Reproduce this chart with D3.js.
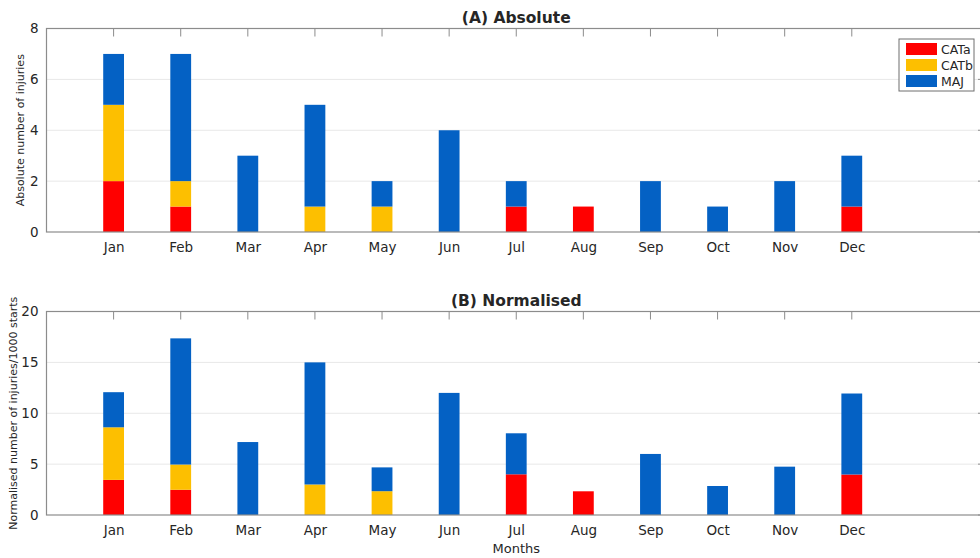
<!DOCTYPE html>
<html>
<head>
<meta charset="utf-8">
<script src="https://cdn.jsdelivr.net/npm/d3@7"></script>
<style>
  body { margin: 0; background: #fff; }
  text { font-family: "DejaVu Sans", sans-serif; fill: #262626; }
</style>
</head>
<body>
<div id="chart"></div>
<script>
const months = ["Jan", "Feb", "Mar", "Apr", "May", "Jun", "Jul", "Aug", "Sep", "Oct", "Nov", "Dec"];
const series = ["CATa", "CATb", "MAJ"];

// (A) absolute counts
const absCATa = [2, 1, 0, 0, 0, 0, 1, 1, 0, 0, 0, 1];
const absCATb = [3, 1, 0, 1, 1, 0, 0, 0, 0, 0, 0, 0];
const absMAJ = [2, 5, 3, 4, 1, 4, 1, 0, 2, 1, 2, 2];

// (B) per 1000 starts
const normCATa = [3.45, 2.48, 0, 0, 0, 0, 4.0, 2.33, 0, 0, 0, 3.98];
const normCATb = [5.17, 2.48, 0, 3.0, 2.34, 0, 0, 0, 0, 0, 0, 0];
const normMAJ = [3.45, 12.4, 7.17, 12.0, 2.34, 12.0, 4.03, 0, 6.0, 2.85, 4.75, 7.96];

const absTicks = [0, 2, 4, 6, 8];
const normTicks = [0, 5, 10, 15, 20];

const colors = { CATa: "#ff0000", CATb: "#fdbf00", MAJ: "#0461c4" };

const width = 980, height = 558;
const svg = d3.select("#chart").append("svg")
  .attr("width", width).attr("height", height);

const x = d3.scaleLinear().domain([0, 14]).range([46.5, 986]);
const barW = (x(1) - x(0)) * 0.31;

function panel(opts) {
  const { top, bottom, ymax, ticks, a, b, c, title, ylabel, legend } = opts;
  const y = d3.scaleLinear().domain([0, ymax]).range([bottom, top]);
  const g = svg.append("g");

  // grid
  g.selectAll("line.grid").data(ticks.slice(1, -1)).join("line")
    .attr("x1", x(0)).attr("x2", x(14))
    .attr("y1", d => y(d)).attr("y2", d => y(d))
    .attr("stroke", "#e8e8e8").attr("stroke-width", 1);

  // stacked bars
  const rows = months.map((m, i) => ({ month: m, i: i + 1, CATa: a[i], CATb: b[i], MAJ: c[i] }));
  const stacked = d3.stack().keys(series)(rows);
  g.selectAll("g.layer").data(stacked).join("g")
    .attr("fill", d => colors[d.key])
    .selectAll("rect").data(d => d.filter(p => p[1] > p[0])).join("rect")
    .attr("x", d => x(d.data.i) - barW / 2)
    .attr("width", barW)
    .attr("y", d => y(d[1]))
    .attr("height", d => y(d[0]) - y(d[1]));

  // box
  const axisCol = "#8c8c8c";
  g.append("rect")
    .attr("x", x(0)).attr("y", top)
    .attr("width", x(14) - x(0)).attr("height", bottom - top)
    .attr("fill", "none").attr("stroke", axisCol).attr("stroke-width", 1.2);

  // bottom axis + labels
  const xb = d3.axisBottom(x).tickValues(d3.range(1, 13))
    .tickFormat(d => months[d - 1]).tickSize(0).tickPadding(10);
  g.append("g").attr("transform", `translate(0,${bottom})`).call(xb)
    .call(s => s.select(".domain").remove())
    .selectAll("text").style("font-size", "13.5px").attr("fill", "#262626");

  // inward ticks at top
  g.selectAll("line.ttick").data(d3.range(1, 13)).join("line")
    .attr("x1", d => x(d)).attr("x2", d => x(d))
    .attr("y1", top).attr("y2", top + 8)
    .attr("stroke", axisCol);

  // left axis
  const yl = d3.axisLeft(y).tickValues(ticks).tickSize(0).tickPadding(8);
  g.append("g").attr("transform", `translate(${x(0)},0)`).call(yl)
    .call(s => s.select(".domain").remove())
    .selectAll("text").style("font-size", "13.5px").attr("fill", "#262626");

  // right axis inward ticks
  g.selectAll("line.rtick").data(ticks).join("line")
    .attr("x1", x(14) - 8).attr("x2", x(14))
    .attr("y1", d => y(d)).attr("y2", d => y(d))
    .attr("stroke", axisCol);

  g.append("text").attr("x", (x(0) + x(14)) / 2).attr("y", top - 6)
    .attr("text-anchor", "middle").style("font-size", "15.5px").style("font-weight", "bold")
    .attr("fill", "#111").text(title);

  g.append("text")
    .attr("transform", `translate(${opts.ylx},${(top + bottom) / 2}) rotate(-90)`)
    .attr("text-anchor", "middle").style("font-size", "11px").text(ylabel);

  if (legend) {
    const lx = 899, ly = 39;
    const lg = g.append("g");
    lg.append("rect").attr("x", lx).attr("y", ly).attr("width", 75).attr("height", 52)
      .attr("fill", "#fff").attr("stroke", "#6e6e6e").attr("stroke-width", 1);
    series.forEach((s, i) => {
      lg.append("rect").attr("x", lx + 7).attr("y", ly + 4 + i * 16)
        .attr("width", 31).attr("height", 12).attr("fill", colors[s]);
      lg.append("text").attr("x", lx + 42).attr("y", ly + 14.5 + i * 16)
        .style("font-size", "12.5px").text(s);
    });
  }
}

panel({ top: 28.5, bottom: 232, ymax: 8, ticks: absTicks, a: absCATa, b: absCATb, c: absMAJ,
  title: "(A) Absolute", ylabel: "Absolute number of injuries", ylx: 24, legend: true });
panel({ top: 311.5, bottom: 515, ymax: 20, ticks: normTicks, a: normCATa, b: normCATb, c: normMAJ,
  title: "(B) Normalised", ylabel: "Normalised number of injuries/1000 starts", ylx: 17, legend: false });

svg.append("text").attr("x", x(7)).attr("y", 553)
  .attr("text-anchor", "middle").style("font-size", "13px").text("Months");
</script>
</body>
</html>
